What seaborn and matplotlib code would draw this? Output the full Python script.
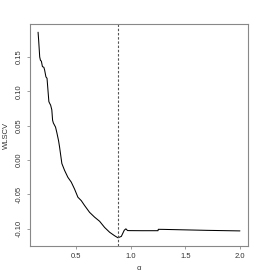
import matplotlib
matplotlib.use("Agg")
import matplotlib.pyplot as plt
import pandas as pd
import seaborn as sns

# valores
alpha = [0.15, 0.155, 0.165, 0.172, 0.18, 0.19, 0.203, 0.21, 0.222, 0.232,
         0.249, 0.258, 0.265, 0.276, 0.283, 0.290, 0.300, 0.310, 0.322, 0.338,
         0.347, 0.368, 0.393, 0.423, 0.454, 0.484, 0.515, 0.546, 0.576, 0.622,
         0.668, 0.714, 0.76, 0.806, 0.851, 0.882, 0.913, 0.94, 0.955, 0.97,
         1.0, 1.1, 1.2, 1.249, 1.252, 1.3, 1.5, 1.7, 2.0]
wlscv = [0.186, 0.175, 0.150, 0.145, 0.144, 0.136, 0.135, 0.131, 0.121, 0.119,
         0.085, 0.082, 0.080, 0.073, 0.058, 0.054, 0.051, 0.048, 0.040, 0.028,
         0.019, -0.005, -0.015, -0.025, -0.032, -0.042, -0.054, -0.059, -0.066, -0.076,
         -0.083, -0.089, -0.098, -0.105, -0.110, -0.113, -0.111, -0.102, -0.100, -0.1025,
         -0.1026, -0.1027, -0.1027, -0.1027, -0.1007, -0.1008, -0.1015, -0.1022, -0.103]
alpha_opt = 0.882

x_ticks = [0.5, 1.0, 1.5, 2.0]
x_labels = ["0.5", "1.0", "1.5", "2.0"]
y_ticks = [-0.10, -0.05, 0.00, 0.05, 0.10, 0.15]
y_labels = ["-0.10", "-0.05", "0.00", "0.05", "0.10", "0.15"]

df = pd.DataFrame({"alpha": alpha, "WLSCV": wlscv})

sns.set_style("white")
plt.rcParams["font.family"] = ["Liberation Sans", "DejaVu Sans"]

fig = plt.figure(figsize=(2.61, 2.77), dpi=100)
ax = fig.add_axes([30 / 261, 31 / 277, 218 / 261, 222 / 277])

sns.lineplot(data=df, x="alpha", y="WLSCV", color="black", linewidth=0.75, ax=ax)
ax.axvline(alpha_opt, color="#555555", linestyle=(0, (2.2, 1.6)), linewidth=0.8)

# limites como en R (4% de margen)
xr = max(alpha) - min(alpha)
yr = max(wlscv) - min(wlscv)
ax.set_xlim(min(alpha) - 0.04 * xr, max(alpha) + 0.04 * xr)
ax.set_ylim(min(wlscv) - 0.04 * yr, max(wlscv) + 0.04 * yr)

ax.set_xticks(x_ticks)
ax.set_xticklabels(x_labels)
ax.set_yticks(y_ticks)
ax.set_yticklabels(y_labels, rotation=90, va="center")
ax.tick_params(axis="both", labelsize=5.5, length=2.5, width=0.5, color="#777777",
               labelcolor="#333333", pad=2.5, bottom=True, left=True)

for s in ax.spines.values():
    s.set_color("#888888")
    s.set_linewidth(0.8)

ax.set_xlabel("α", fontsize=5.5, color="#333333")
ax.set_ylabel("WLSCV", fontsize=5.5, color="#333333")
ax.xaxis.set_label_coords(0.5, -0.085)
ax.yaxis.set_label_coords(-0.09, 0.5)

fig.savefig("out.png", dpi=100)
